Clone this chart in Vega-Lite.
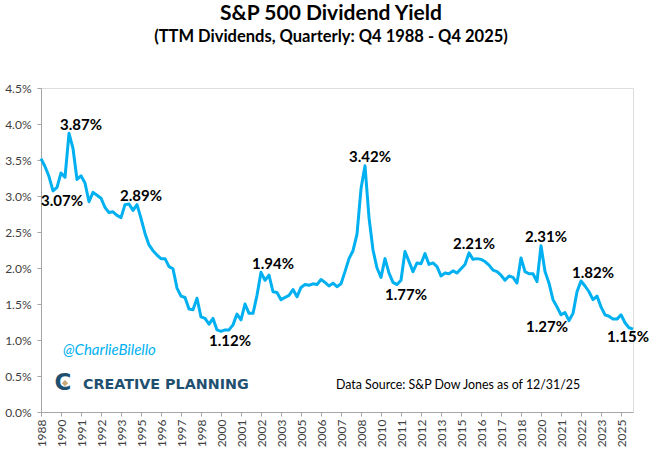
{
  "$schema": "https://vega.github.io/schema/vega-lite/v6.json",
  "width": 592,
  "height": 324,
  "autosize": "none",
  "padding": {"left": 41, "top": 88, "right": 20, "bottom": 43},
  "background": "white",
  "title": {
    "text": "S&P 500 Dividend Yield",
    "subtitle": "(TTM Dividends, Quarterly: Q4 1988 - Q4 2025)",
    "font": "Lato",
    "fontSize": 21,
    "fontWeight": "bold",
    "color": "black",
    "subtitleFont": "Lato",
    "subtitleFontSize": 16.5,
    "subtitleFontWeight": "bold",
    "subtitleColor": "black",
    "subtitlePadding": 5,
    "anchor": "middle",
    "frame": "group",
    "dx": -6,
    "offset": 37
  },
  "data": {
    "values": [
      {"quarter": "1988Q4", "yield": 3.52},
      {"quarter": "1989Q1", "yield": 3.41},
      {"quarter": "1989Q2", "yield": 3.27},
      {"quarter": "1989Q3", "yield": 3.07, "label": "3.07%"},
      {"quarter": "1989Q4", "yield": 3.12},
      {"quarter": "1990Q1", "yield": 3.32},
      {"quarter": "1990Q2", "yield": 3.26},
      {"quarter": "1990Q3", "yield": 3.87, "label": "3.87%"},
      {"quarter": "1990Q4", "yield": 3.66},
      {"quarter": "1991Q1", "yield": 3.23},
      {"quarter": "1991Q2", "yield": 3.28},
      {"quarter": "1991Q3", "yield": 3.18},
      {"quarter": "1991Q4", "yield": 2.92},
      {"quarter": "1992Q1", "yield": 3.05},
      {"quarter": "1992Q2", "yield": 3.01},
      {"quarter": "1992Q3", "yield": 2.97},
      {"quarter": "1992Q4", "yield": 2.84},
      {"quarter": "1993Q1", "yield": 2.77},
      {"quarter": "1993Q2", "yield": 2.78},
      {"quarter": "1993Q3", "yield": 2.73},
      {"quarter": "1993Q4", "yield": 2.70},
      {"quarter": "1994Q1", "yield": 2.88},
      {"quarter": "1994Q2", "yield": 2.89, "label": "2.89%"},
      {"quarter": "1994Q3", "yield": 2.80},
      {"quarter": "1994Q4", "yield": 2.88},
      {"quarter": "1995Q1", "yield": 2.69},
      {"quarter": "1995Q2", "yield": 2.48},
      {"quarter": "1995Q3", "yield": 2.32},
      {"quarter": "1995Q4", "yield": 2.24},
      {"quarter": "1996Q1", "yield": 2.18},
      {"quarter": "1996Q2", "yield": 2.13},
      {"quarter": "1996Q3", "yield": 2.13},
      {"quarter": "1996Q4", "yield": 2.02},
      {"quarter": "1997Q1", "yield": 1.99},
      {"quarter": "1997Q2", "yield": 1.72},
      {"quarter": "1997Q3", "yield": 1.61},
      {"quarter": "1997Q4", "yield": 1.59},
      {"quarter": "1998Q1", "yield": 1.43},
      {"quarter": "1998Q2", "yield": 1.42},
      {"quarter": "1998Q3", "yield": 1.58},
      {"quarter": "1998Q4", "yield": 1.32},
      {"quarter": "1999Q1", "yield": 1.30},
      {"quarter": "1999Q2", "yield": 1.22},
      {"quarter": "1999Q3", "yield": 1.30},
      {"quarter": "1999Q4", "yield": 1.14},
      {"quarter": "2000Q1", "yield": 1.12, "label": "1.12%"},
      {"quarter": "2000Q2", "yield": 1.14},
      {"quarter": "2000Q3", "yield": 1.14},
      {"quarter": "2000Q4", "yield": 1.21},
      {"quarter": "2001Q1", "yield": 1.36},
      {"quarter": "2001Q2", "yield": 1.28},
      {"quarter": "2001Q3", "yield": 1.50},
      {"quarter": "2001Q4", "yield": 1.37},
      {"quarter": "2002Q1", "yield": 1.37},
      {"quarter": "2002Q2", "yield": 1.62},
      {"quarter": "2002Q3", "yield": 1.94, "label": "1.94%"},
      {"quarter": "2002Q4", "yield": 1.83},
      {"quarter": "2003Q1", "yield": 1.90},
      {"quarter": "2003Q2", "yield": 1.67},
      {"quarter": "2003Q3", "yield": 1.66},
      {"quarter": "2003Q4", "yield": 1.56},
      {"quarter": "2004Q1", "yield": 1.59},
      {"quarter": "2004Q2", "yield": 1.62},
      {"quarter": "2004Q3", "yield": 1.70},
      {"quarter": "2004Q4", "yield": 1.60},
      {"quarter": "2005Q1", "yield": 1.73},
      {"quarter": "2005Q2", "yield": 1.77},
      {"quarter": "2005Q3", "yield": 1.76},
      {"quarter": "2005Q4", "yield": 1.78},
      {"quarter": "2006Q1", "yield": 1.77},
      {"quarter": "2006Q2", "yield": 1.84},
      {"quarter": "2006Q3", "yield": 1.80},
      {"quarter": "2006Q4", "yield": 1.75},
      {"quarter": "2007Q1", "yield": 1.79},
      {"quarter": "2007Q2", "yield": 1.74},
      {"quarter": "2007Q3", "yield": 1.78},
      {"quarter": "2007Q4", "yield": 1.95},
      {"quarter": "2008Q1", "yield": 2.13},
      {"quarter": "2008Q2", "yield": 2.24},
      {"quarter": "2008Q3", "yield": 2.47},
      {"quarter": "2008Q4", "yield": 3.10},
      {"quarter": "2009Q1", "yield": 3.42, "label": "3.42%"},
      {"quarter": "2009Q2", "yield": 2.70},
      {"quarter": "2009Q3", "yield": 2.25},
      {"quarter": "2009Q4", "yield": 2.00},
      {"quarter": "2010Q1", "yield": 1.87},
      {"quarter": "2010Q2", "yield": 2.13},
      {"quarter": "2010Q3", "yield": 1.93},
      {"quarter": "2010Q4", "yield": 1.80},
      {"quarter": "2011Q1", "yield": 1.77, "label": "1.77%"},
      {"quarter": "2011Q2", "yield": 1.83},
      {"quarter": "2011Q3", "yield": 2.23},
      {"quarter": "2011Q4", "yield": 2.09},
      {"quarter": "2012Q1", "yield": 1.95},
      {"quarter": "2012Q2", "yield": 2.07},
      {"quarter": "2012Q3", "yield": 2.06},
      {"quarter": "2012Q4", "yield": 2.20},
      {"quarter": "2013Q1", "yield": 2.05},
      {"quarter": "2013Q2", "yield": 2.07},
      {"quarter": "2013Q3", "yield": 2.02},
      {"quarter": "2013Q4", "yield": 1.89},
      {"quarter": "2014Q1", "yield": 1.93},
      {"quarter": "2014Q2", "yield": 1.92},
      {"quarter": "2014Q3", "yield": 1.96},
      {"quarter": "2014Q4", "yield": 1.93},
      {"quarter": "2015Q1", "yield": 1.99},
      {"quarter": "2015Q2", "yield": 2.05},
      {"quarter": "2015Q3", "yield": 2.21, "label": "2.21%"},
      {"quarter": "2015Q4", "yield": 2.12},
      {"quarter": "2016Q1", "yield": 2.13},
      {"quarter": "2016Q2", "yield": 2.12},
      {"quarter": "2016Q3", "yield": 2.09},
      {"quarter": "2016Q4", "yield": 2.04},
      {"quarter": "2017Q1", "yield": 1.97},
      {"quarter": "2017Q2", "yield": 1.95},
      {"quarter": "2017Q3", "yield": 1.90},
      {"quarter": "2017Q4", "yield": 1.83},
      {"quarter": "2018Q1", "yield": 1.89},
      {"quarter": "2018Q2", "yield": 1.87},
      {"quarter": "2018Q3", "yield": 1.79},
      {"quarter": "2018Q4", "yield": 2.14},
      {"quarter": "2019Q1", "yield": 1.95},
      {"quarter": "2019Q2", "yield": 1.92},
      {"quarter": "2019Q3", "yield": 1.92},
      {"quarter": "2019Q4", "yield": 1.81},
      {"quarter": "2020Q1", "yield": 2.31, "label": "2.31%"},
      {"quarter": "2020Q2", "yield": 1.95},
      {"quarter": "2020Q3", "yield": 1.79},
      {"quarter": "2020Q4", "yield": 1.56},
      {"quarter": "2021Q1", "yield": 1.46},
      {"quarter": "2021Q2", "yield": 1.35},
      {"quarter": "2021Q3", "yield": 1.38},
      {"quarter": "2021Q4", "yield": 1.27, "label": "1.27%"},
      {"quarter": "2022Q1", "yield": 1.37},
      {"quarter": "2022Q2", "yield": 1.67},
      {"quarter": "2022Q3", "yield": 1.82, "label": "1.82%"},
      {"quarter": "2022Q4", "yield": 1.75},
      {"quarter": "2023Q1", "yield": 1.67},
      {"quarter": "2023Q2", "yield": 1.56},
      {"quarter": "2023Q3", "yield": 1.61},
      {"quarter": "2023Q4", "yield": 1.46},
      {"quarter": "2024Q1", "yield": 1.35},
      {"quarter": "2024Q2", "yield": 1.33},
      {"quarter": "2024Q3", "yield": 1.29},
      {"quarter": "2024Q4", "yield": 1.29},
      {"quarter": "2025Q1", "yield": 1.35},
      {"quarter": "2025Q2", "yield": 1.24},
      {"quarter": "2025Q3", "yield": 1.17},
      {"quarter": "2025Q4", "yield": 1.15, "label": "1.15%"}
    ]
  },
  "encoding": {
    "x": {
      "field": "quarter",
      "type": "ordinal",
      "sort": null,
      "scale": {"type": "point", "padding": 0},
      "axis": {
        "title": null,
        "values": ["1988Q4", "1990Q1", "1991Q2", "1992Q3", "1993Q4", "1995Q1", "1996Q2", "1997Q3", "1998Q4", "2000Q1", "2001Q2", "2002Q3", "2003Q4", "2005Q1", "2006Q2", "2007Q3", "2008Q4", "2010Q1", "2011Q2", "2012Q3", "2013Q4", "2015Q1", "2016Q2", "2017Q3", "2018Q4", "2020Q1", "2021Q2", "2022Q3", "2023Q4", "2025Q1"],
        "labelExpr": "substring(datum.value, 0, 4)",
        "labelAngle": 270,
        "labelAlign": "right",
        "labelBaseline": "middle",
        "labelFont": "Lato",
        "labelFontSize": 12,
        "labelColor": "#404040",
        "labelPadding": 3,
        "domainColor": "#A6A6A6",
        "tickColor": "#A6A6A6",
        "tickSize": 4,
        "grid": false
      }
    },
    "y": {
      "field": "yield",
      "type": "quantitative",
      "scale": {"domain": [0, 4.5], "nice": false},
      "axis": {
        "title": null,
        "values": [0, 0.5, 1, 1.5, 2, 2.5, 3, 3.5, 4, 4.5],
        "labelExpr": "format(datum.value, '.1f') + '%'",
        "labelFont": "Lato",
        "labelFontSize": 12,
        "labelColor": "#404040",
        "labelPadding": 6,
        "domainColor": "#A6A6A6",
        "tickColor": "#A6A6A6",
        "tickSize": 4,
        "grid": false
      }
    }
  },
  "layer": [
    {
      "mark": {"type": "line", "color": "#00B0F0", "strokeWidth": 3, "strokeJoin": "round"}
    },
    {
      "transform": [{"filter": "indexof(['3.87%', '1.94%', '1.82%', '2.89%'], datum.label) >= 0"}],
      "mark": {"type": "text", "font": "Lato", "fontSize": 15, "fontWeight": "bold", "color": "black", "align": "center", "baseline": "middle", "dx": 12, "dy": -8},
      "encoding": {"text": {"field": "label"}}
    },
    {
      "transform": [{"filter": "indexof(['3.42%', '2.31%', '2.21%'], datum.label) >= 0"}],
      "mark": {"type": "text", "font": "Lato", "fontSize": 15, "fontWeight": "bold", "color": "black", "align": "center", "baseline": "middle", "dx": 5, "dy": -9},
      "encoding": {"text": {"field": "label"}}
    },
    {
      "transform": [{"filter": "indexof(['3.07%', '1.12%', '1.77%'], datum.label) >= 0"}],
      "mark": {"type": "text", "font": "Lato", "fontSize": 15, "fontWeight": "bold", "color": "black", "align": "center", "baseline": "middle", "dx": 9, "dy": 10},
      "encoding": {"text": {"field": "label"}}
    },
    {
      "transform": [{"filter": "datum.label == '1.27%'"}],
      "mark": {"type": "text", "font": "Lato", "fontSize": 15, "fontWeight": "bold", "color": "black", "align": "center", "baseline": "middle", "dx": -22, "dy": 6},
      "encoding": {"text": {"field": "label"}}
    },
    {
      "transform": [{"filter": "datum.label == '1.15%'"}],
      "mark": {"type": "text", "font": "Lato", "fontSize": 15, "fontWeight": "bold", "color": "black", "align": "center", "baseline": "middle", "dx": -5, "dy": 8},
      "encoding": {"text": {"field": "label"}}
    },
    {
      "data": {"values": [{"note": "@CharlieBilello", "quarter": "1990Q1", "yield": 0.86}]},
      "mark": {"type": "text", "font": "Lato", "fontSize": 15, "fontStyle": "italic", "color": "#00B0F0", "align": "left", "baseline": "middle", "dx": 2},
      "encoding": {"text": {"field": "note", "type": "nominal"}}
    },
    {
      "data": {"values": [{"note": "C", "quarter": "1990Q1", "yield": 0.40}]},
      "mark": {"type": "text", "font": "DejaVu Sans", "fontSize": 23, "fontWeight": "bold", "color": "#1F5070", "align": "center", "baseline": "middle", "dx": 2},
      "encoding": {"text": {"field": "note", "type": "nominal"}}
    },
    {
      "data": {"values": [{"note": "logo", "quarter": "1990Q2", "yield": 0.40}]},
      "mark": {"type": "point", "shape": "diamond", "filled": true, "color": "#C9A878", "size": 40, "opacity": 1, "dx": 1}
    },
    {
      "data": {"values": [{"note": "CREATIVE PLANNING", "quarter": "1991Q2", "yield": 0.375}]},
      "mark": {"type": "text", "font": "DejaVu Sans", "fontSize": 14.3, "fontWeight": "bold", "color": "#1F5070", "align": "left", "baseline": "middle", "dx": 2},
      "encoding": {"text": {"field": "note", "type": "nominal"}}
    },
    {
      "data": {"values": [{"note": "Data Source: S&P Dow Jones as of 12/31/25", "quarter": "2007Q1", "yield": 0.375}]},
      "mark": {"type": "text", "font": "Lato", "fontSize": 12.4, "color": "black", "align": "left", "baseline": "middle", "dx": 3},
      "encoding": {"text": {"field": "note", "type": "nominal"}}
    }
  ]
}
